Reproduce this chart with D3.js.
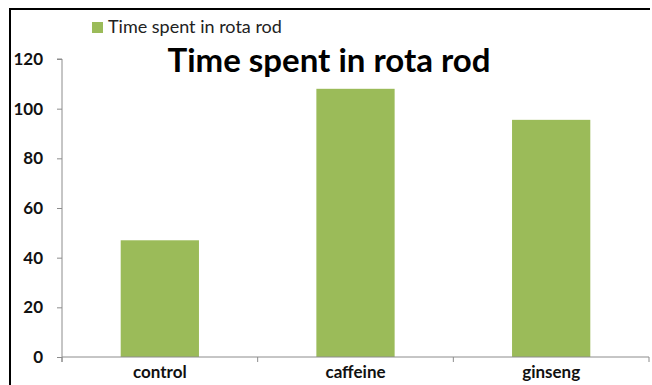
<!DOCTYPE html>
<html><head><meta charset="utf-8">
<script src="https://cdn.jsdelivr.net/npm/d3@7"></script>
<style>html,body{margin:0;padding:0;background:#fff;overflow:hidden;} svg{display:block;}</style>
</head><body>
<svg id="c" width="652" height="385"></svg>
<script>
const categories = ["control", "caffeine", "ginseng"];
const values = [47, 108, 95.5];
const yTicks = [0, 20, 40, 60, 80, 100, 120];
const seriesName = "Time spent in rota rod";
const titleText = "Time spent in rota rod";

const svg = d3.select("#c");
const W = 652, H = 385;
const m = {left: 62, right: 3, top: 59, bottom: 28};
const font = "Lato, 'Open Sans', sans-serif";
const barColor = "#9BBB59";
const axisColor = "#8c8c8c";

// outer frame (only left and top edges visible)
svg.append("line").attr("x1", 10).attr("x2", 10).attr("y1", 8).attr("y2", H)
  .attr("stroke", "#000").attr("stroke-width", 2);
svg.append("line").attr("x1", 9).attr("x2", W - 2).attr("y1", 9).attr("y2", 9)
  .attr("stroke", "#000").attr("stroke-width", 2);

const x = d3.scaleBand().domain(categories).range([m.left, W - m.right]).paddingInner(0.6).paddingOuter(0.3);
const y = d3.scaleLinear().domain([0, 120]).range([H - m.bottom, m.top]);

// bars
svg.append("g").selectAll("rect").data(values).join("rect")
  .attr("x", (d, i) => x(categories[i]))
  .attr("width", x.bandwidth())
  .attr("y", d => y(d))
  .attr("height", d => y(0) - y(d))
  .attr("fill", barColor);

// y axis
const ya = svg.append("g").attr("transform", `translate(${m.left},0)`)
  .call(d3.axisLeft(y).tickValues(yTicks).tickSize(5).tickPadding(14).tickFormat(d3.format("d")));
ya.select(".domain").attr("stroke", axisColor).attr("d", `M-5,${y(120)}H0V${y(0) + 5}`);
ya.selectAll(".tick line").attr("stroke", axisColor);
ya.selectAll("text").attr("font-family", font).attr("font-weight", "bold").attr("font-size", 17).attr("fill", "#111");

// x axis
const xa = svg.append("g").attr("transform", `translate(0,${y(0)})`);
xa.append("line").attr("x1", m.left).attr("x2", W - m.right).attr("y1", 0).attr("y2", 0).attr("stroke", axisColor);
const bounds = d3.range(categories.length + 1).map(i => m.left + i * (W - m.right - m.left) / categories.length);
xa.selectAll("line.bt").data(bounds).join("line").attr("class", "bt")
  .attr("x1", d => d).attr("x2", d => d).attr("y1", 0).attr("y2", 5).attr("stroke", axisColor);
xa.selectAll("text").data(categories).join("text")
  .attr("x", d => x(d) + x.bandwidth() / 2).attr("y", 21)
  .attr("text-anchor", "middle").attr("font-family", font).attr("font-weight", "bold")
  .attr("font-size", 17).attr("fill", "#111").text(d => d);

// legend
const lg = svg.append("g").attr("transform", "translate(92,22)");
lg.append("rect").attr("width", 11).attr("height", 11).attr("fill", barColor);
lg.append("text").attr("x", 16).attr("y", 11).attr("font-family", font).attr("font-size", 18)
  .attr("fill", "#222").text(seriesName);

// title
svg.append("text").attr("x", 329).attr("y", 72).attr("text-anchor", "middle")
  .attr("font-family", font).attr("font-weight", "bold").attr("font-size", 33).attr("fill", "#000")
  .text(titleText);
</script>
</body></html>
